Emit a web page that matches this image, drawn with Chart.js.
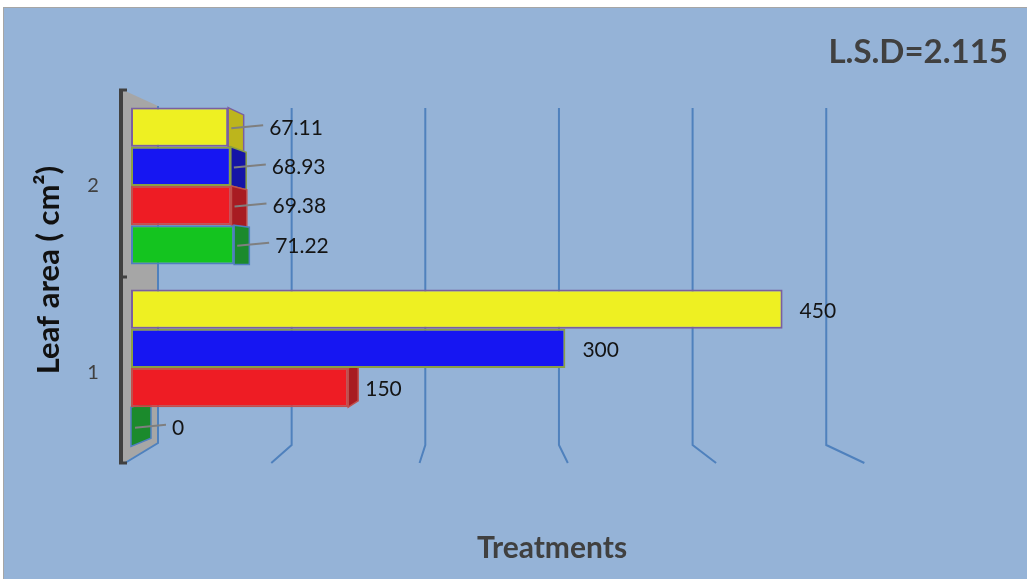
<!DOCTYPE html>
<html>
<head>
<meta charset="utf-8">
<script src="https://cdn.jsdelivr.net/npm/chart.js@4/dist/chart.umd.min.js"></script>
<style>
  html, body { margin: 0; padding: 0; background: #fff; }
  canvas { display: block; }
</style>
</head>
<body>
<canvas id="chart" width="1027" height="579"></canvas>
<script>
// categories (top to bottom as drawn)
const categories = ['2', '1'];

// series values, one array per colour (top bar first)
const yellowValues = [67.11, 450];
const blueValues = [68.93, 300];
const redValues = [69.38, 150];
const greenValues = [71.22, 0];

// value axis
const xMin = 0;
const xMax = 500;
const xStep = 100;

const titleText = 'L.S.D=2.115';
const xTitle = 'Treatments';
const yTitle = 'Leaf area ( cm\u00b2)';

const FONT = 'Lato, "Open Sans", sans-serif';

// side face colours, same order as the datasets
const sideColors = ['#bdb51c', '#1515a6', '#a81c22', '#1b8a2c'];

// draws the frame, the wall, the 3d gridlines, the axis and the texts
const backdrop = {
    id: 'backdrop',
    beforeDraw(chart) {
        const ctx = chart.ctx;
        const area = chart.chartArea;
        const xs = chart.scales.x;
        const ys = chart.scales.y;
        const L = area.left;

        ctx.save();
        ctx.fillStyle = '#95b3d7';
        ctx.fillRect(3, 7, chart.width - 3, chart.height - 7);
        ctx.strokeStyle = '#a6a6a6';
        ctx.lineWidth = 1;
        ctx.strokeRect(3.5, 7.5, chart.width, chart.height);

        const top = area.top + 13;
        const bend = area.bottom - 14;
        const end = area.bottom + 4;

        // grey side wall
        ctx.fillStyle = '#a6a6a6';
        ctx.beginPath();
        ctx.moveTo(L - 8, area.top - 5);
        ctx.lineTo(L + 27, area.top + 11);
        ctx.lineTo(L + 27, bend - 2);
        ctx.lineTo(L - 8, end);
        ctx.closePath();
        ctx.fill();

        // gridlines on the back wall and floor
        ctx.strokeStyle = '#4f81bd';
        ctx.lineWidth = 2;
        xs.ticks.forEach(t => {
            const p = xs.getPixelForValue(t.value);
            const back = L + 27 + (p - L) * 0.923;
            const front = L - 8 + (p - L) * 1.024;
            ctx.beginPath();
            ctx.moveTo(back, t.value === 0 ? area.top + 11 : top);
            ctx.lineTo(back, t.value === 0 ? bend - 2 : bend);
            ctx.lineTo(t.value === 0 ? front + 2 : front, end);
            ctx.stroke();
        });

        // value axis line with tick marks
        const ax = L - 10;
        ctx.strokeStyle = '#404040';
        ctx.lineWidth = 4;
        ctx.beginPath();
        ctx.moveTo(ax, area.top - 5);
        ctx.lineTo(ax, end);
        ctx.stroke();
        const marks = [area.top - 5, end];
        for (let i = 0; i < categories.length - 1; i++) {
            marks.push((ys.getPixelForValue(i) + ys.getPixelForValue(i + 1)) / 2);
        }
        ctx.lineWidth = 3;
        marks.forEach(m => {
            ctx.beginPath();
            ctx.moveTo(ax - 2, m);
            ctx.lineTo(ax + 6, m);
            ctx.stroke();
        });

        // category labels
        ctx.fillStyle = '#404040';
        ctx.font = '20px ' + FONT;
        ctx.textAlign = 'center';
        ctx.textBaseline = 'middle';
        categories.forEach((c, i) => {
            ctx.fillText(c, L - 38, ys.getPixelForValue(i) + (i === 1 ? 5 : 0));
        });

        // titles
        ctx.font = 'bold 33px ' + FONT;
        ctx.textAlign = 'right';
        ctx.textBaseline = 'alphabetic';
        ctx.fillText(titleText, 1008, 63);

        ctx.font = 'bold 30px ' + FONT;
        ctx.textAlign = 'center';
        ctx.fillText(xTitle, 552, 558);

        ctx.save();
        ctx.translate(49, 270);
        ctx.rotate(-Math.PI / 2);
        ctx.fillStyle = '#111111';
        ctx.font = 'bold 31px ' + FONT;
        ctx.textBaseline = 'middle';
        ctx.fillText(yTitle, 0, 0);
        ctx.restore();

        ctx.restore();
    }
};

// right side faces of the boxes (perspective toward a point in the plot)
const boxes = {
    id: 'boxes',
    beforeDatasetsDraw(chart) {
        const ctx = chart.ctx;
        const area = chart.chartArea;
        const vx = area.left + 434;
        const vy = 268;
        const k = 0.046;
        ctx.save();
        chart.data.datasets.forEach((ds, di) => {
            chart.getDatasetMeta(di).data.forEach(el => {
                const right = el.x;
                if (right >= vx) return;
                const t = el.y - el.height / 2;
                const b = el.y + el.height / 2;
                const dx = (vx - right) * k;
                ctx.fillStyle = sideColors[di];
                ctx.strokeStyle = ds.borderColor;
                ctx.lineWidth = 1.5;
                ctx.beginPath();
                ctx.moveTo(right, t);
                ctx.lineTo(right + dx, t + (vy - t) * k);
                ctx.lineTo(right + dx, b + (vy - b) * k);
                ctx.lineTo(right, b);
                ctx.closePath();
                ctx.fill();
                ctx.stroke();
            });
        });
        ctx.restore();
    },
    afterDatasetsDraw(chart) {
        const ctx = chart.ctx;
        const area = chart.chartArea;
        const vx = area.left + 434;
        const k = 0.046;
        ctx.save();
        ctx.font = '21px ' + FONT;
        ctx.fillStyle = '#141414';
        ctx.textAlign = 'left';
        ctx.textBaseline = 'middle';
        chart.data.datasets.forEach((ds, di) => {
            chart.getDatasetMeta(di).data.forEach((el, i) => {
                const v = ds.data[i];
                const right = el.x;
                const txt = String(v);
                if (i === 1 && v > 0) {
                    ctx.fillText(txt, right + 17, el.y + 2);
                    return;
                }
                const dx = right < vx ? (vx - right) * k : 0;
                const lx = right + 41;
                ctx.strokeStyle = '#7f7f7f';
                ctx.lineWidth = 2;
                ctx.beginPath();
                ctx.moveTo(right + dx * 0.2, el.y + 1);
                ctx.lineTo(lx - 6, el.y - 2);
                ctx.stroke();
                ctx.fillText(txt, lx, el.y + 1);
            });
        });
        ctx.restore();
    }
};

function makeSet(label, values, color, border) {
    return {
        label: label,
        data: values,
        backgroundColor: color,
        borderColor: border,
        borderWidth: 2,
        borderSkipped: false,
        categoryPercentage: 0.862,
        barPercentage: 1.0
    };
}

const chart = new Chart(document.getElementById('chart'), {
    type: 'bar',
    data: {
        labels: categories,
        datasets: [
            makeSet('Series 4', yellowValues, '#eef022', '#7a5fa0'),
            makeSet('Series 3', blueValues, '#1616f2', '#8a9f45'),
            makeSet('Series 2', redValues, '#ee1c24', '#c0504d'),
            makeSet('Series 1', greenValues, '#14c41f', '#4f7fbf')
        ]
    },
    options: {
        indexAxis: 'y',
        responsive: false,
        animation: false,
        layout: {
            padding: { left: 131, top: 95, right: 172, bottom: 120 }
        },
        scales: {
            x: {
                display: false,
                min: xMin,
                max: xMax,
                ticks: { stepSize: xStep }
            },
            y: {
                display: false,
                offset: true
            }
        },
        plugins: {
            legend: { display: false },
            tooltip: { enabled: false },
            title: { display: false }
        }
    },
    plugins: [backdrop, boxes]
});
</script>
</body>
</html>
